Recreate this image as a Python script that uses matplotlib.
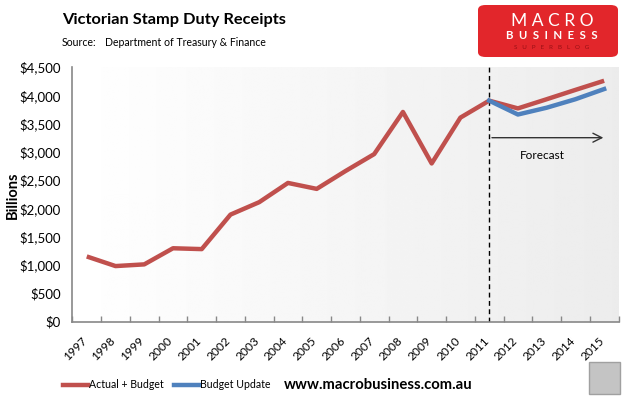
import matplotlib
matplotlib.use("Agg")
import matplotlib.pyplot as plt
import numpy as np
from matplotlib.patches import FancyBboxPatch, Rectangle
from matplotlib.lines import Line2D
from matplotlib.transforms import ScaledTranslation

years = [str(y) for y in range(1997, 2016)]
actual_budget = [1150, 980, 1010, 1295, 1280, 1890, 2110, 2450, 2345, 2660, 2960, 3705, 2795, 3605, 3905, 3768, 3930, 4095, 4257]
update_years = ["2011", "2012", "2013", "2014", "2015"]
budget_update = [3905, 3660, 3780, 3930, 4110]
yticks = [0, 500, 1000, 1500, 2000, 2500, 3000, 3500, 4000, 4500]
ytick_labels = ["$0", "$500", "$1,000", "$1,500", "$2,000", "$2,500", "$3,000", "$3,500", "$4,000", "$4,500"]

RED = "#C0504D"
BLUE = "#4F81BD"
FONT = ["Lato", "DejaVu Sans"]
plt.rcParams["font.family"] = FONT

W, H = 629, 404
fig = plt.figure(figsize=(W / 100, H / 100), dpi=100)
fig.patch.set_facecolor("white")

def fx(px):
    return px / W

def fy(py):
    return 1 - py / H

ax = fig.add_axes([fx(72.4), fy(321.5), fx(618.5) - fx(72.4), fy(67) - fy(321.5)])

# gradient background
grad = np.linspace(1.0, 0.925, 256).reshape(1, -1)
ax.imshow(grad, cmap="gray", vmin=0, vmax=1, aspect="auto",
          extent=(-0.5, 18.5, 0, 4500), zorder=0, interpolation="bilinear")

xi = np.arange(len(years))
ax.plot(xi, actual_budget, color=RED, lw=3.2, solid_capstyle="butt", solid_joinstyle="round", zorder=3)
ux = [years.index(y) for y in update_years]
ax.plot(ux, budget_update, color=BLUE, lw=3.2, solid_joinstyle="round", zorder=3)

ax.set_xlim(-0.5, 18.5)
ax.set_ylim(0, 4500)
ax.set_yticks(yticks)
ax.set_yticklabels(ytick_labels, fontsize=9.5)
ax.tick_params(axis="y", length=0, pad=8.5)
ax.set_xticks(xi)
ax.set_xticklabels(years, rotation=45, ha="right", va="center", rotation_mode="anchor", fontsize=8.6)
ax.tick_params(axis="x", length=0, pad=0)
off = ScaledTranslation(-2 / 100, -17 / 100, fig.dpi_scale_trans)
for lab in ax.get_xticklabels():
    lab.set_transform(lab.get_transform() + off)
ax.set_xticks(np.arange(-0.5, 19, 1), minor=True)
ax.tick_params(axis="x", which="minor", direction="in", length=4, color="#888888", width=1)

for s in ["top", "right"]:
    ax.spines[s].set_visible(False)
for s in ["left", "bottom"]:
    ax.spines[s].set_color("#888888")
    ax.spines[s].set_linewidth(1.2)

fig.text(fx(13), fy(195), "Billions", fontsize=10.5, fontweight="bold", rotation=90, ha="center", va="center")

# forecast marker
ax.axvline(years.index("2011"), color="black", ls=(0, (3.5, 2.5)), lw=1, zorder=2)
ax.annotate("", xy=(18.07, 3250), xytext=(14.0, 3250),
            arrowprops=dict(arrowstyle="->", color="#333333", lw=1, mutation_scale=16), zorder=4)
ax.text(15.85, 2940, "Forecast", fontsize=8.5, ha="center", va="center", color="black")

# titles
fig.text(fx(62), fy(20), "Victorian Stamp Duty Receipts", fontsize=11.8, fontweight="bold", va="center", ha="left")
fig.text(fx(62), fy(42), "Source:", fontsize=7.6, va="center", ha="left")
fig.text(fx(105), fy(42), "Department of Treasury & Finance", fontsize=7.6, va="center", ha="left")

# logo
logo = FancyBboxPatch((fx(478), fy(57)), fx(618) - fx(478), fy(5) - fy(57),
                      boxstyle="round,pad=0,rounding_size=0.012", transform=fig.transFigure,
                      facecolor="#E2262B", edgecolor="none", zorder=1)
fig.patches.append(logo)
fig.text(fx(552), fy(21), "M A C R O", color="white", fontsize=12.5, ha="center", va="center", zorder=2)
fig.text(fx(552), fy(35.5), "B  U  S  I  N  E  S  S", color="white", fontsize=8.2, ha="center", va="center", zorder=2, fontweight="bold")
fig.text(fx(552), fy(47.5), "S   U   P   E   R   B   L   O   G", color="#9A1015", fontsize=4.5, ha="center", va="center", zorder=2)

# legend
leg1 = fig.legend([Line2D([], [], color=RED, lw=3.2)], ["Actual + Budget"], loc="center left",
                  bbox_to_anchor=(fx(63), fy(385)), frameon=False, fontsize=7.6,
                  handlelength=2.4, handletextpad=0.1, borderpad=0, borderaxespad=0)
leg2 = fig.legend([Line2D([], [], color=BLUE, lw=3.2)], ["Budget Update"], loc="center left",
                  bbox_to_anchor=(fx(174), fy(385)), frameon=False, fontsize=7.6,
                  handlelength=2.4, handletextpad=0.1, borderpad=0, borderaxespad=0)

fig.text(fx(378), fy(385), "www.macrobusiness.com.au", fontsize=10.7, fontweight="bold", ha="center", va="center")

# wolf badge placeholder
badge = Rectangle((fx(589), fy(394)), fx(620) - fx(589), fy(362) - fy(394), transform=fig.transFigure,
                  facecolor="#C4C4C4", edgecolor="#A0A0A0", lw=1)
fig.patches.append(badge)

fig.savefig("out.png", dpi=100)
